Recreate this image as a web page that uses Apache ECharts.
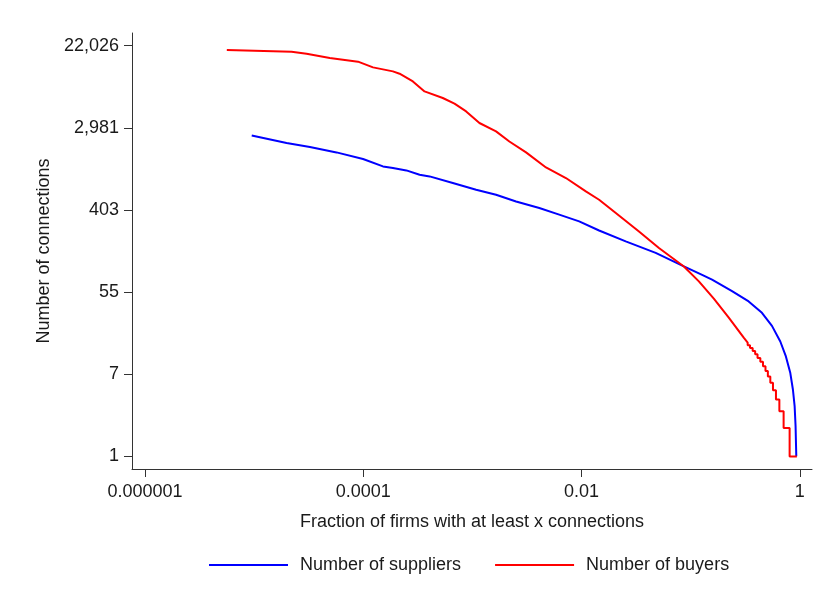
<!DOCTYPE html>
<html>
<head>
<meta charset="utf-8">
<script src="https://cdn.jsdelivr.net/npm/echarts@6/dist/echarts.min.js"></script>
<style>
html,body{margin:0;padding:0;background:#fff;}
#chart{width:818px;height:602px;}
</style>
</head>
<body>
<div id="chart"></div>
<script>
// x tick positions (fractions) and labels
const xTickValues = [0.000001, 0.0001, 0.01, 1];
const xTickLabels = ["0.000001", "0.0001", "0.01", "1"];
// y ticks: e^0, e^2, ..., e^10
const yTickExponents = [0, 2, 4, 6, 8, 10];
const yTickLabels = ["1", "7", "55", "403", "2,981", "22,026"];

// Number of suppliers (blue): fraction of firms with at least x connections, x
const supplierFrac = [9.49e-6, 1.98e-5, 3.24e-5, 5.68e-5, 9.94e-5, 1.514e-4, 1.868e-4, 2.48e-4, 3.28e-4, 4.05e-4,
  6.61e-4, 1.081e-3, 1.646e-3, 2.51e-3, 4.10e-3, 6.24e-3, 9.51e-3, 1.448e-2, 2.54e-2, 4.78e-2,
  8.67e-2, 0.1273, 0.157, 0.2394, 0.340, 0.450, 0.556, 0.663, 0.746, 0.819, 0.865, 0.897, 0.915, 0.929];
const supplierConn = [2480, 2060, 1870, 1640, 1396, 1166, 1122, 1058, 952, 914,
  778, 661, 585, 497, 423, 360, 306, 245, 188, 142,
  102, 83, 74, 56, 43.5, 33, 24, 16.4, 11.4, 7.6, 5.1, 3.4, 2.1, 1];

// Number of buyers (red): continuous upper part
const buyerFrac = [5.61e-6, 2.20e-5, 3.02e-5, 4.93e-5, 8.94e-5, 1.227e-4, 1.868e-4, 2.15e-4, 2.846e-4, 3.64e-4,
  5.35e-4, 6.85e-4, 8.76e-4, 1.159e-3, 1.646e-3, 2.18e-3, 3.10e-3, 4.72e-3, 7.19e-3, 1.095e-2,
  1.448e-2, 2.06e-2, 3.36e-2, 5.12e-2, 8.67e-2, 0.1189, 0.163, 0.2234, 0.3064];
const buyerConn = [19850, 19050, 18140, 16350, 14940, 13000, 11800, 11150, 9240, 7240,
  6170, 5370, 4450, 3355, 2735, 2140, 1640, 1137, 879, 634,
  518, 375, 239, 160, 102, 71, 46.5, 29.3, 18];
// Number of buyers: fraction with at least n buyers, for n = 16 down to 1 (stair part)
const buyerStepN = [16, 15, 14, 13, 12, 11, 10, 9, 8, 7, 6, 5, 4, 3, 2, 1];
const buyerStepFrac = [0.333, 0.35, 0.37, 0.39, 0.41, 0.435, 0.46, 0.485, 0.51, 0.537, 0.568, 0.605, 0.65, 0.711, 0.807, 0.94];

const lx = f => Math.log10(f);
const ly = v => Math.log(v);

const supplierData = supplierFrac.map((f, i) => [lx(f), ly(supplierConn[i])]);
const buyerData = buyerFrac.map((f, i) => [lx(f), ly(buyerConn[i])]);
for (let i = 0; i < buyerStepN.length; i++) {
  if (i > 0) buyerData.push([lx(buyerStepFrac[i - 1]), ly(buyerStepN[i])]);
  buyerData.push([lx(buyerStepFrac[i]), ly(buyerStepN[i])]);
}

const xPos = xTickValues.map(lx);
const FONT = "'Liberation Sans', Arial, sans-serif";
const TXT = '#1a1a1a';

const chart = echarts.init(document.getElementById('chart'), null, {renderer: 'canvas'});
chart.setOption({
  animation: false,
  backgroundColor: '#ffffff',
  textStyle: {fontFamily: FONT},
  grid: {left: 132, right: 6, top: 33, bottom: 133, containLabel: false},
  legend: {
    left: 204, top: 551,
    itemWidth: 79, itemHeight: 14, itemGap: 34,
    icon: 'path://M0,6 L79,6 L79,8 L0,8 Z',
    textStyle: {fontFamily: FONT, fontSize: 18, color: TXT, padding: [0, 0, 0, 7]},
    data: [
      {name: 'Number of suppliers', itemStyle: {color: '#0000ff'}},
      {name: 'Number of buyers', itemStyle: {color: '#ff0000'}}
    ]
  },
  xAxis: {
    type: 'value',
    min: -6.12, max: 0.112,
    name: 'Fraction of firms with at least x connections',
    nameLocation: 'middle', nameGap: 44,
    nameTextStyle: {fontFamily: FONT, fontSize: 18, color: TXT},
    axisLine: {show: true, onZero: false, lineStyle: {color: '#333', width: 1}},
    axisTick: {show: true, customValues: xPos, length: 8, lineStyle: {color: '#333'}},
    axisLabel: {
      customValues: xPos, margin: 14, fontFamily: FONT, fontSize: 18, color: TXT,
      formatter: v => {
        const i = xPos.findIndex(p => Math.abs(p - v) < 1e-6);
        return i >= 0 ? xTickLabels[i] : '';
      }
    },
    splitLine: {show: false}
  },
  yAxis: {
    type: 'value',
    min: -0.307, max: 10.31,
    name: 'Number of connections',
    nameLocation: 'middle', nameGap: 78,
    nameTextStyle: {fontFamily: FONT, fontSize: 18, color: TXT},
    axisLine: {show: true, onZero: false, lineStyle: {color: '#333', width: 1}},
    axisTick: {show: true, customValues: yTickExponents, length: 8, lineStyle: {color: '#333'}},
    axisLabel: {
      customValues: yTickExponents, margin: 13, fontFamily: FONT, fontSize: 18, color: TXT,
      formatter: v => {
        const i = yTickExponents.findIndex(p => Math.abs(p - v) < 1e-6);
        return i >= 0 ? yTickLabels[i] : '';
      }
    },
    splitLine: {show: false}
  },
  series: [
    {
      name: 'Number of suppliers', type: 'line', data: supplierData,
      symbol: 'none', smooth: false, color: '#0000ff',
      lineStyle: {color: '#0000ff', width: 2}
    },
    {
      name: 'Number of buyers', type: 'line', data: buyerData,
      symbol: 'none', smooth: false, color: '#ff0000',
      lineStyle: {color: '#ff0000', width: 2}
    }
  ]
});
</script>
</body>
</html>
